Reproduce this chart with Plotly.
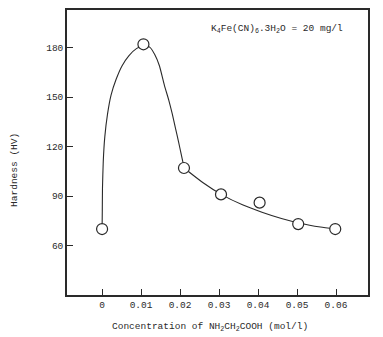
import plotly.graph_objects as go

# Measured hardness vs. glycine concentration
conc = [0.0, 0.0106, 0.021, 0.0305, 0.0404, 0.0503, 0.0598]
hardness = [70, 182, 107, 91, 86, 73, 70]

# Hand-faired trend curve through the measurements
curve_conc = [0.0, 0.00005, 0.0001, 0.0003, 0.0007, 0.0014, 0.0023,
              0.0036, 0.0051, 0.0069, 0.0088, 0.0106, 0.0122, 0.0135,
              0.0147, 0.016, 0.0171, 0.018, 0.0188, 0.0196, 0.0203,
              0.0208, 0.021, 0.026, 0.031, 0.036, 0.041, 0.046,
              0.051, 0.056, 0.0598]
curve_hard = [70, 81, 94.8, 111, 126, 139.8, 151.2,
              160.8, 168.9, 175.2, 179.4, 181.2, 180.3, 175.8,
              169, 157, 148.2, 139.8, 131.4, 123, 115.2,
              109.8, 107.4, 97.9, 90.4, 84.7, 80.2, 76.4,
              73.4, 71.2, 69.9]

x_ticks = [0, 0.01, 0.02, 0.03, 0.04, 0.05, 0.06]
x_tick_text = ["0", "0.01", "0.02", "0.03", "0.04", "0.05", "0.06"]
y_ticks = [60, 90, 120, 150, 180]

FONT = "Liberation Mono, Courier New, monospace"
INK = "#2a2a2a"

fig = go.Figure()
fig.add_trace(go.Scatter(
    x=curve_conc, y=curve_hard, mode="lines",
    line=dict(color=INK, width=1.1, shape="spline", smoothing=0.5),
    hoverinfo="skip", showlegend=False,
))
fig.add_trace(go.Scatter(
    x=conc, y=hardness, mode="markers",
    marker=dict(symbol="circle", size=11, color="white",
                line=dict(color=INK, width=1.2)),
    showlegend=False,
))

axis_common = dict(
    showline=True, linecolor=INK, linewidth=1.6, mirror=True,
    showgrid=False, zeroline=False,
    ticks="inside", ticklen=6, tickwidth=1.2, tickcolor=INK,
    tickfont=dict(family=FONT, size=9.5, color=INK),
)

fig.update_layout(
    width=383, height=337,
    margin=dict(l=67, r=15, t=8, b=42),
    paper_bgcolor="white", plot_bgcolor="white",
    xaxis=dict(range=[-0.009, 0.0682], tickvals=x_ticks,
               ticktext=x_tick_text, **axis_common),
    yaxis=dict(range=[30, 202.8], tickvals=y_ticks, **axis_common),
    annotations=[
        dict(text="K<sub>4</sub>Fe(CN)<sub>6</sub>.3H<sub>2</sub>O = 20 mg/l",
             xref="paper", yref="paper", x=0.924, y=0.935,
             xanchor="right", yanchor="middle", showarrow=False,
             font=dict(family=FONT, size=9.5, color=INK)),
        dict(text="Hardness (HV)", xref="paper", yref="paper",
             x=-0.175, y=0.44, xanchor="center", yanchor="middle",
             textangle=-90, showarrow=False,
             font=dict(family=FONT, size=9.5, color=INK)),
        dict(text="Concentration of NH<sub>2</sub>CH<sub>2</sub>COOH (mol/l)",
             xref="paper", yref="paper", x=0.475, y=-0.085,
             xanchor="center", yanchor="top", showarrow=False,
             font=dict(family=FONT, size=9.5, color=INK)),
    ],
)

fig.write_html("out.html")
